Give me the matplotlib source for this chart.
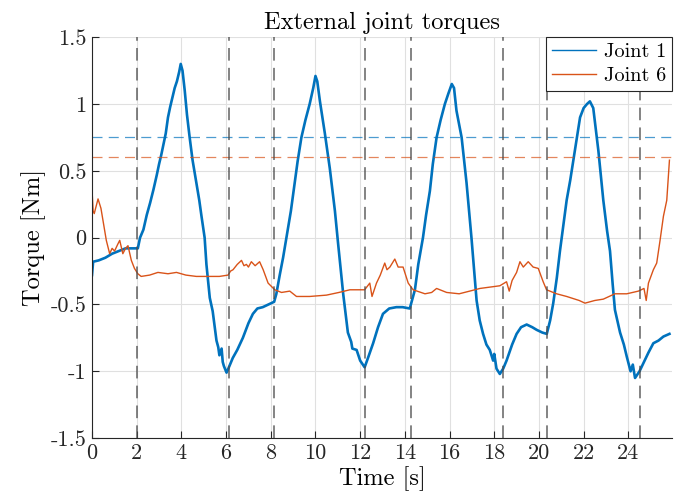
import matplotlib
matplotlib.use("Agg")
import matplotlib.pyplot as plt
import numpy as np

# Joint 1 torque
t_j1 = [0.0, 0.05, 0.3, 0.6, 0.9, 1.2, 1.5, 1.8, 2.05,
        2.15, 2.3, 2.45, 2.6, 2.75, 2.9, 3.0, 3.1, 3.2, 3.3, 3.4, 3.5, 3.6, 3.7, 3.8, 3.9, 3.97, 4.05,
        4.15, 4.25, 4.37, 4.5, 4.67, 4.8, 4.9, 5.04, 5.12, 5.27, 5.4, 5.57, 5.65, 5.7, 5.8, 5.85, 5.9, 6.02, 6.1,
        6.3, 6.5, 6.75, 7.0, 7.2, 7.4, 7.64, 7.9, 8.15,
        8.25, 8.4, 8.55, 8.7, 8.9, 9.07, 9.2, 9.37, 9.55, 9.74, 9.9, 10.0, 10.08,
        10.2, 10.42, 10.64, 10.87, 11.01, 11.24, 11.45, 11.6, 11.65, 11.84, 12.0, 12.2, 12.35,
        12.58, 12.8, 13.02, 13.3, 13.62, 13.9, 14.22,
        14.35, 14.45, 14.6, 14.81, 14.95, 15.12, 15.25, 15.42, 15.6, 15.79, 15.95, 16.1, 16.2,
        16.31, 16.54, 16.76, 16.98, 17.21, 17.35, 17.5, 17.65, 17.8, 17.95, 18.0, 18.1, 18.25, 18.4,
        18.55, 18.8, 19.0, 19.2, 19.45, 19.7, 19.9, 20.15, 20.35,
        20.5, 20.64, 20.8, 20.94, 21.1, 21.24, 21.4, 21.54, 21.7, 21.84, 22.0, 22.15, 22.28, 22.43,
        22.55, 22.66, 22.88, 23.05, 23.18, 23.3, 23.4, 23.63, 23.8, 23.93, 24.1, 24.2, 24.3, 24.5,
        24.67, 24.9, 25.12, 25.35, 25.57, 25.84]
y_j1 = [-0.28, -0.18, -0.17, -0.15, -0.12, -0.10, -0.08, -0.08, -0.08,
        0.0, 0.06, 0.17, 0.26, 0.36, 0.47, 0.55, 0.62, 0.70, 0.78, 0.90, 0.98, 1.05, 1.12, 1.17, 1.24, 1.30, 1.25,
        1.10, 0.92, 0.75, 0.58, 0.41, 0.28, 0.16, 0.0, -0.20, -0.45, -0.55, -0.77, -0.82, -0.88, -0.83, -0.93, -0.96, -1.01, -0.98,
        -0.90, -0.84, -0.75, -0.64, -0.57, -0.53, -0.52, -0.50, -0.48,
        -0.42, -0.28, -0.15, 0.0, 0.20, 0.41, 0.57, 0.75, 0.88, 1.0, 1.12, 1.21, 1.17,
        1.02, 0.78, 0.52, 0.20, -0.04, -0.42, -0.71, -0.78, -0.83, -0.84, -0.92, -0.97, -0.90,
        -0.79, -0.67, -0.57, -0.53, -0.52, -0.52, -0.53,
        -0.45, -0.39, -0.20, 0.0, 0.17, 0.35, 0.55, 0.75, 0.88, 1.0, 1.08, 1.15, 1.12,
        0.95, 0.75, 0.41, 0.0, -0.47, -0.62, -0.72, -0.80, -0.84, -0.92, -0.87, -0.98, -1.02, -0.98,
        -0.92, -0.80, -0.72, -0.67, -0.65, -0.67, -0.69, -0.71, -0.72,
        -0.62, -0.49, -0.30, -0.10, 0.10, 0.28, 0.43, 0.58, 0.75, 0.90, 0.97, 1.0, 1.02, 0.97,
        0.80, 0.65, 0.28, 0.05, -0.10, -0.35, -0.54, -0.71, -0.80, -0.89, -1.0, -0.95, -1.05, -1.0,
        -0.94, -0.86, -0.79, -0.77, -0.74, -0.72]

# Joint 6 torque
t_j6 = [0.0, 0.05, 0.1, 0.27, 0.4, 0.49, 0.64, 0.79, 0.9, 1.01, 1.15, 1.24, 1.38, 1.5, 1.61, 1.76, 1.9, 2.05,
        2.2, 2.58, 2.95, 3.4, 3.78, 4.2, 4.67, 5.2, 5.7, 6.09, 6.2, 6.31, 6.5, 6.69, 6.8, 6.91, 7.0, 7.13,
        7.3, 7.5, 7.66, 7.88, 8.18, 8.48, 8.85, 9.15, 9.74, 10.49, 11.05, 11.54, 12.2, 12.43, 12.53, 12.73,
        12.9, 13.1, 13.2, 13.33, 13.55, 13.7, 13.92, 14.15, 14.37, 14.9, 15.2, 15.42, 15.87, 16.43, 16.9,
        17.36, 18.25, 18.55, 18.67, 18.8, 19.0, 19.15, 19.3, 19.52, 19.74, 19.97, 20.19, 20.34, 20.79,
        21.24, 21.8, 22.06, 22.5, 22.88, 23.4, 23.93, 24.45, 24.7, 24.8, 24.9, 25.12, 25.27, 25.42,
        25.57, 25.72, 25.84]
y_j6 = [0.36, 0.20, 0.18, 0.29, 0.22, 0.13, -0.02, -0.12, -0.08, -0.10, -0.05, -0.02, -0.12, -0.08, -0.06, -0.17, -0.23, -0.27,
        -0.29, -0.28, -0.26, -0.27, -0.26, -0.28, -0.29, -0.29, -0.29, -0.28, -0.25, -0.24, -0.20, -0.17, -0.21, -0.20, -0.22, -0.18,
        -0.21, -0.18, -0.24, -0.34, -0.39, -0.41, -0.40, -0.44, -0.44, -0.43, -0.41, -0.39, -0.39, -0.34, -0.44, -0.34,
        -0.28, -0.19, -0.24, -0.22, -0.16, -0.22, -0.22, -0.34, -0.39, -0.42, -0.41, -0.38, -0.41, -0.42, -0.40,
        -0.38, -0.36, -0.33, -0.40, -0.32, -0.26, -0.18, -0.22, -0.18, -0.22, -0.23, -0.33, -0.39, -0.42,
        -0.44, -0.47, -0.49, -0.47, -0.46, -0.42, -0.42, -0.40, -0.38, -0.47, -0.34, -0.24, -0.19, -0.02,
        0.16, 0.28, 0.58]

# event markers and thresholds
t_events = [2.03, 6.12, 8.15, 12.22, 14.27, 18.37, 20.37, 24.5]
thr_j1 = 0.75
thr_j6 = 0.6

x_ticks = list(range(0, 25, 2))
y_ticks = [-1.5, -1, -0.5, 0, 0.5, 1, 1.5]

c1 = "#0072BD"
c6 = "#D95319"

plt.rcParams["font.family"] = "serif"
plt.rcParams["font.serif"] = ["cmr10"]
plt.rcParams["mathtext.fontset"] = "cm"
plt.rcParams["axes.unicode_minus"] = False

fig = plt.figure(figsize=(6.97, 5.03), dpi=100)
ax = fig.add_axes([0.132, 0.129, 0.832, 0.797])

ax.plot(t_j1, y_j1, color=c1, lw=1.9, label="_nolegend_")
ax.plot(t_j6, y_j6, color=c6, lw=1.0, label="_nolegend_")
ax.plot([], [], color=c1, lw=1.0, label="Joint 1")
ax.plot([], [], color=c6, lw=1.0, label="Joint 6")

ax.axhline(thr_j1, color=c1, lw=0.9, alpha=0.7, dashes=(8, 5))
ax.axhline(thr_j6, color=c6, lw=0.9, alpha=0.7, dashes=(8, 5))
for te in t_events:
    ax.axvline(te, color="0.3", lw=1.3, alpha=0.75, dashes=(7, 4))

ax.set_xlim(0, 25.95)
ax.set_ylim(-1.5, 1.5)
ax.set_xticks(x_ticks)
ax.set_yticks(y_ticks)
ax.set_yticklabels(["%g" % v for v in y_ticks])
ax.grid(True, color="0.88", lw=0.8)
ax.set_axisbelow(True)
ax.tick_params(direction="in", length=5, labelsize=16, colors="0.15", width=0.8, pad=4)
for s in ["top", "right"]:
    ax.spines[s].set_visible(False)
for s in ["left", "bottom"]:
    ax.spines[s].set_color("0.15")
    ax.spines[s].set_linewidth(0.8)

ax.set_title("External joint torques", fontsize=17.6, pad=6)
ax.set_xlabel("Time [s]", fontsize=17.6, labelpad=2)
ax.set_ylabel("Torque [Nm]", fontsize=17.6, labelpad=3)

leg = ax.legend(loc="upper right", fontsize=14.6, fancybox=False, framealpha=1,
                edgecolor="0.15", borderaxespad=0.0, handlelength=2.2,
                borderpad=0.3, labelspacing=0.25, handletextpad=0.35)
leg.get_frame().set_linewidth(0.8)

fig.savefig("out.png", dpi=100)
